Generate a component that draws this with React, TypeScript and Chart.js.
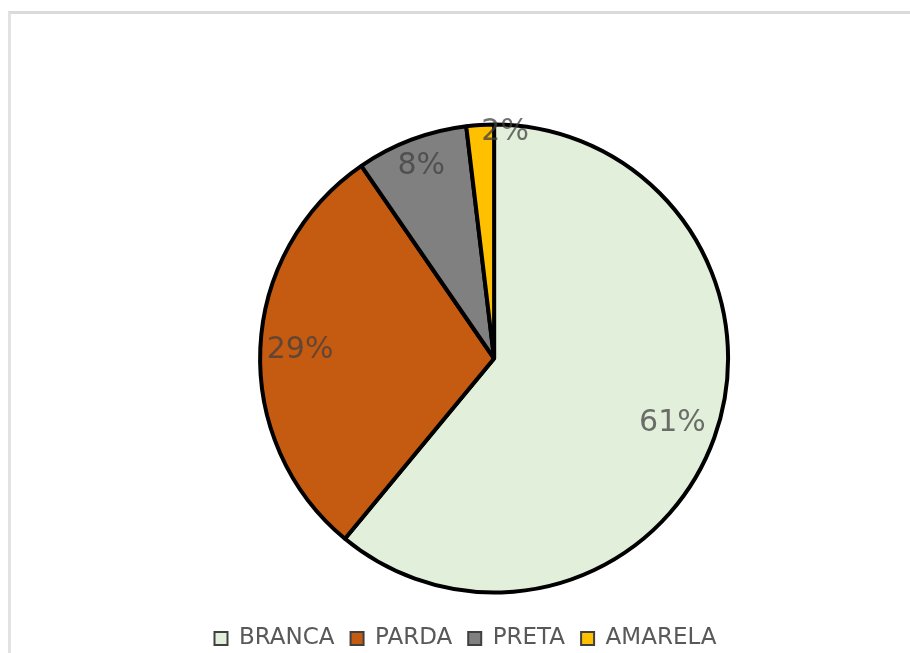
import React, { useEffect, useRef } from "react";
import { Chart, registerables } from "chart.js";

Chart.register(...registerables);

const categories = ["BRANCA", "PARDA", "PRETA", "AMARELA"];
const values = [61, 29.4, 7.7, 1.9];
const colors = ["#e2efda", "#c55a11", "#808080", "#ffc000"];
// label placement (fraction of radius, angle shift in degrees)
const labelRadius = [0.81, 0.83, 0.88, 0.97];
const labelShift = [0, 0, 0, 6.2];

const pctLabels = {
  id: "pctLabels",
  afterDatasetsDraw(chart: any) {
    const ctx = chart.ctx;
    const meta = chart.getDatasetMeta(0);
    const data = chart.data.datasets[0].data as number[];
    const total = data.reduce((a, b) => a + b, 0);
    ctx.save();
    ctx.font = "30px 'DejaVu Sans'";
    ctx.fillStyle = "rgba(64,64,64,0.75)";
    ctx.textAlign = "center";
    ctx.textBaseline = "middle";
    meta.data.forEach((arc: any, i: number) => {
      const p = arc.getProps(["x", "y", "startAngle", "endAngle", "outerRadius"], true);
      const mid = (p.startAngle + p.endAngle) / 2 + (labelShift[i] * Math.PI) / 180;
      const r = p.outerRadius * labelRadius[i];
      const txt = Math.round((data[i] / total) * 100) + "%";
      ctx.fillText(txt, p.x + Math.cos(mid) * r, p.y + Math.sin(mid) * r);
    });
    ctx.restore();
  },
};

export default function App() {
  const ref = useRef<HTMLCanvasElement>(null);
  useEffect(() => {
    if (!ref.current) return;
    const chart = new Chart(ref.current, {
      type: "pie",
      data: {
        labels: categories,
        datasets: [
          {
            data: values,
            backgroundColor: colors,
            borderColor: "#000000",
            borderWidth: 4,
          },
        ],
      },
      options: {
        responsive: false,
        animation: false,
        radius: 234,
        layout: { padding: { left: 21, right: 0, top: 106, bottom: 0 } },
        plugins: {
          tooltip: { enabled: false },
          title: {
            display: true,
            text: " ",
            position: "left",
            fullSize: false,
            font: { size: 1 },
            padding: { top: 56, bottom: 0 },
          },
          legend: {
            position: "bottom",
            labels: {
              font: { family: "'DejaVu Sans'", size: 23 },
              color: "#595959",
              boxWidth: 13,
              boxHeight: 13,
              padding: 16,
              generateLabels: (ch: any) =>
                categories.map((c, i) => ({
                  text: c,
                  fillStyle: colors[i],
                  strokeStyle: "#404040",
                  lineWidth: 2,
                  hidden: false,
                  index: i,
                  fontColor: "#595959",
                })),
            },
          },
        },
      } as any,
      plugins: [pctLabels],
    });
    return () => chart.destroy();
  }, []);
  return (
    <div
      style={{
        position: "fixed",
        left: 0,
        top: 0,
        width: 910,
        height: 653,
        overflow: "hidden",
        background: "#ffffff",
      }}
    >
      <div
        style={{
          position: "absolute",
          left: 8,
          top: 11,
          width: 910,
          height: 700,
          borderTop: "3px solid #dadada",
          borderLeft: "3px solid #e2e2e2",
        }}
      />
      <canvas
        ref={ref}
        width={910}
        height={660}
        style={{ position: "absolute", left: 0, top: 0, width: 910, height: 660 }}
      />
    </div>
  );
}
